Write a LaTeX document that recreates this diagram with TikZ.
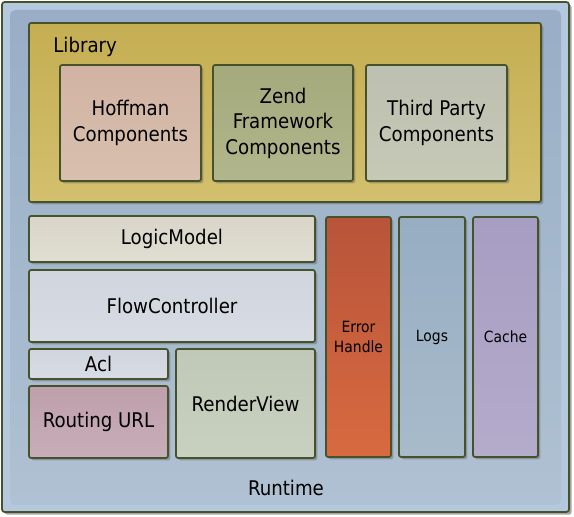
\documentclass[tikz,border=0pt]{standalone}
\usepackage{fontspec}
\setmainfont{DejaVu Sans Condensed}
\usepackage{tikz}
\usetikzlibrary{shadows}

\definecolor{edge}{HTML}{46532A}
\definecolor{frameA}{HTML}{B4C8DE}
\definecolor{panelA}{HTML}{99AEC6}
\definecolor{panelB}{HTML}{AFC1D2}
\definecolor{libA}{HTML}{C5AE52}
\definecolor{libB}{HTML}{D3C06E}
\definecolor{hofA}{HTML}{D2B3A3}
\definecolor{hofB}{HTML}{D8C0AE}
\definecolor{zendA}{HTML}{A4AA7C}
\definecolor{zendB}{HTML}{B2B68C}
\definecolor{thirdA}{HTML}{BDC0B0}
\definecolor{thirdB}{HTML}{C6C9B6}
\definecolor{logicA}{HTML}{D9D5C9}
\definecolor{logicB}{HTML}{E0DDD2}
\definecolor{flowA}{HTML}{D0D5DE}
\definecolor{flowB}{HTML}{D8DCE4}
\definecolor{routeA}{HTML}{BE9FAB}
\definecolor{routeB}{HTML}{C8AEB8}
\definecolor{renderA}{HTML}{C0C8B7}
\definecolor{renderB}{HTML}{C8D0C0}
\definecolor{errA}{HTML}{B8543A}
\definecolor{errB}{HTML}{D86A40}
\definecolor{logsA}{HTML}{97ADC2}
\definecolor{logsB}{HTML}{A8BBCB}
\definecolor{cacheA}{HTML}{A69DC2}
\definecolor{cacheB}{HTML}{B4ACCB}

\begin{document}
\begin{tikzpicture}[
    blk/.style={draw=edge, line width=1pt, rounded corners=1.2pt, inner sep=0pt, align=center,
                font=\fontsize{11.5}{14.5}\selectfont,
                drop shadow={shadow xshift=1.3pt, shadow yshift=-1.3pt, opacity=0.35, fill=black!70}},
    slim/.style={blk, font=\fontsize{8.8}{11.5}\selectfont},
    grad/.style 2 args={top color=#1, bottom color=#2},
    lbl/.style={font=\fontsize{11.5}{14.5}\selectfont, inner sep=0pt}
]
\useasboundingbox (0,0) rectangle (11.48,10.34);

% runtime frame
\node[draw=edge, line width=1pt, fill=frameA, rounded corners=1.5pt, inner sep=0pt,
      minimum width=11.34cm, minimum height=10.20cm,
      drop shadow={shadow xshift=1.5pt, shadow yshift=-1.5pt, opacity=0.5, fill=black!70}] (runtime) at (5.71, 5.20) {};
\node[grad={panelA}{panelB}, rounded corners=3pt, inner sep=0pt,
      minimum width=11.02cm, minimum height=9.90cm] (panel) at (5.71, 5.19) {};

% library
\node[blk, grad={libA}{libB}, minimum width=10.24cm, minimum height=3.58cm] (lib) at (5.70, 8.09) {};
\node[lbl, anchor=west] (libtxt) at (1.06, 9.40) {Library};

\node[blk, grad={hofA}{hofB},     minimum width=2.82cm, minimum height=2.32cm] (hoff)  at (2.61, 7.88) {Hoffman\\Components};
\node[blk, grad={zendA}{zendB},   minimum width=2.80cm, minimum height=2.32cm] (zend)  at (5.66, 7.88) {Zend\\Framework\\Components};
\node[blk, grad={thirdA}{thirdB}, minimum width=2.82cm, minimum height=2.32cm] (third) at (8.73, 7.88) {Third Party\\Components};

% runtime blocks
\node[blk, grad={logicA}{logicB},   minimum width=5.72cm, minimum height=0.92cm] (logic)  at (3.44, 5.56) {LogicModel};
\node[blk, grad={flowA}{flowB},     minimum width=5.72cm, minimum height=1.44cm] (flow)   at (3.44, 4.22) {FlowController};
\node[blk, grad={flowA}{flowB},     minimum width=2.78cm, minimum height=0.60cm] (acl)    at (1.97, 3.06) {Acl};
\node[blk, grad={routeA}{routeB},   minimum width=2.78cm, minimum height=1.44cm] (route)  at (1.97, 1.90) {Routing URL};
\node[blk, grad={renderA}{renderB}, minimum width=2.78cm, minimum height=2.18cm] (render) at (4.91, 2.27) {RenderView};

\node[slim, grad={errA}{errB},     minimum width=1.30cm, minimum height=4.80cm] (err)   at (7.17, 3.60) {Error\\Handle};
\node[slim, grad={logsA}{logsB},   minimum width=1.32cm, minimum height=4.80cm] (logs)  at (8.64, 3.60) {Logs};
\node[slim, grad={cacheA}{cacheB}, minimum width=1.30cm, minimum height=4.80cm] (cache) at (10.11, 3.60) {Cache};

\node[lbl] (rttxt) at (5.72, 0.58) {Runtime};
\end{tikzpicture}
\end{document}
